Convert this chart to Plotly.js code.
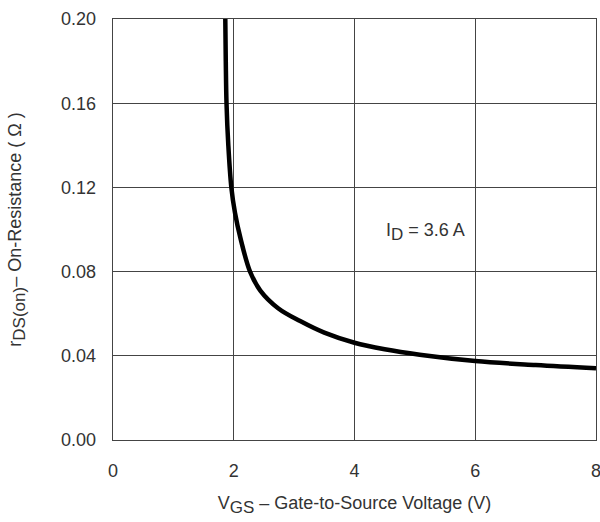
<!DOCTYPE html>
<html>
<head>
<meta charset="utf-8">
<script src="https://cdn.plot.ly/plotly-3.0.1.min.js"></script>
<style>html,body{margin:0;padding:0;background:#fff;}#chart{width:600px;height:522px;}</style>
</head>
<body>
<div id="chart"></div>
<script>
const vgs = [1.86, 1.868, 1.88, 1.91, 1.96, 2.02, 2.11, 2.27, 2.44, 2.74, 3.10, 3.50, 4.00, 4.50, 5.08, 6.00, 7.00, 8.00];
const rds = [0.20, 0.18, 0.16, 0.14, 0.12, 0.108, 0.096, 0.080, 0.0710, 0.0625, 0.0565, 0.0510, 0.0462, 0.0431, 0.0405, 0.0375, 0.0356, 0.0341];
const xTicks = [0, 2, 4, 6, 8];
const yTicks = [0, 0.04, 0.08, 0.12, 0.16, 0.20];
const yTickLabels = ["0.00", "0.04", "0.08", "0.12", "0.16", "0.20"];

const font = {family: "Liberation Sans, Arial, sans-serif", size: 18, color: "#333"};
const axisCommon = {
  showline: true, mirror: true, linecolor: "#444", linewidth: 1.3,
  showgrid: true, gridcolor: "#444", gridwidth: 1.3,
  zeroline: false, ticks: "", tickfont: font, fixedrange: true,
  ticklabeloverflow: "allow"
};
const sub = s => "<sub><span style='font-size:17px'>" + s + "</span></sub>";
Plotly.newPlot("chart", [{
  x: vgs, y: rds, type: "scatter", mode: "lines",
  line: {color: "#000", width: 4.5, shape: "spline", smoothing: 1},
  hoverinfo: "skip"
}], {
  width: 600, height: 522,
  margin: {l: 112.5, r: 3.5, t: 19, b: 82},
  paper_bgcolor: "#fff", plot_bgcolor: "#fff",
  showlegend: false,
  font: font,
  xaxis: Object.assign({}, axisCommon, {
    range: [0, 8], tickvals: xTicks, ticklabelstandoff: 14,
    title: {text: "V" + sub("GS") + " – Gate-to-Source Voltage (V)", font: font, standoff: 16}
  }),
  yaxis: Object.assign({}, axisCommon, {
    range: [0, 0.20], tickvals: yTicks, ticktext: yTickLabels, ticklabelstandoff: 12,
    title: {text: "r" + sub("DS(on)") + "– On-Resistance ( Ω )", font: font, standoff: 34}
  }),
  annotations: [{
    x: 5.17, y: 0.0986, xref: "x", yref: "y", showarrow: false,
    text: "I" + sub("D") + " = 3.6 A", font: font, bgcolor: "#fff", borderpad: 3
  }]
}, {displayModeBar: false, staticPlot: true});
</script>
</body>
</html>
